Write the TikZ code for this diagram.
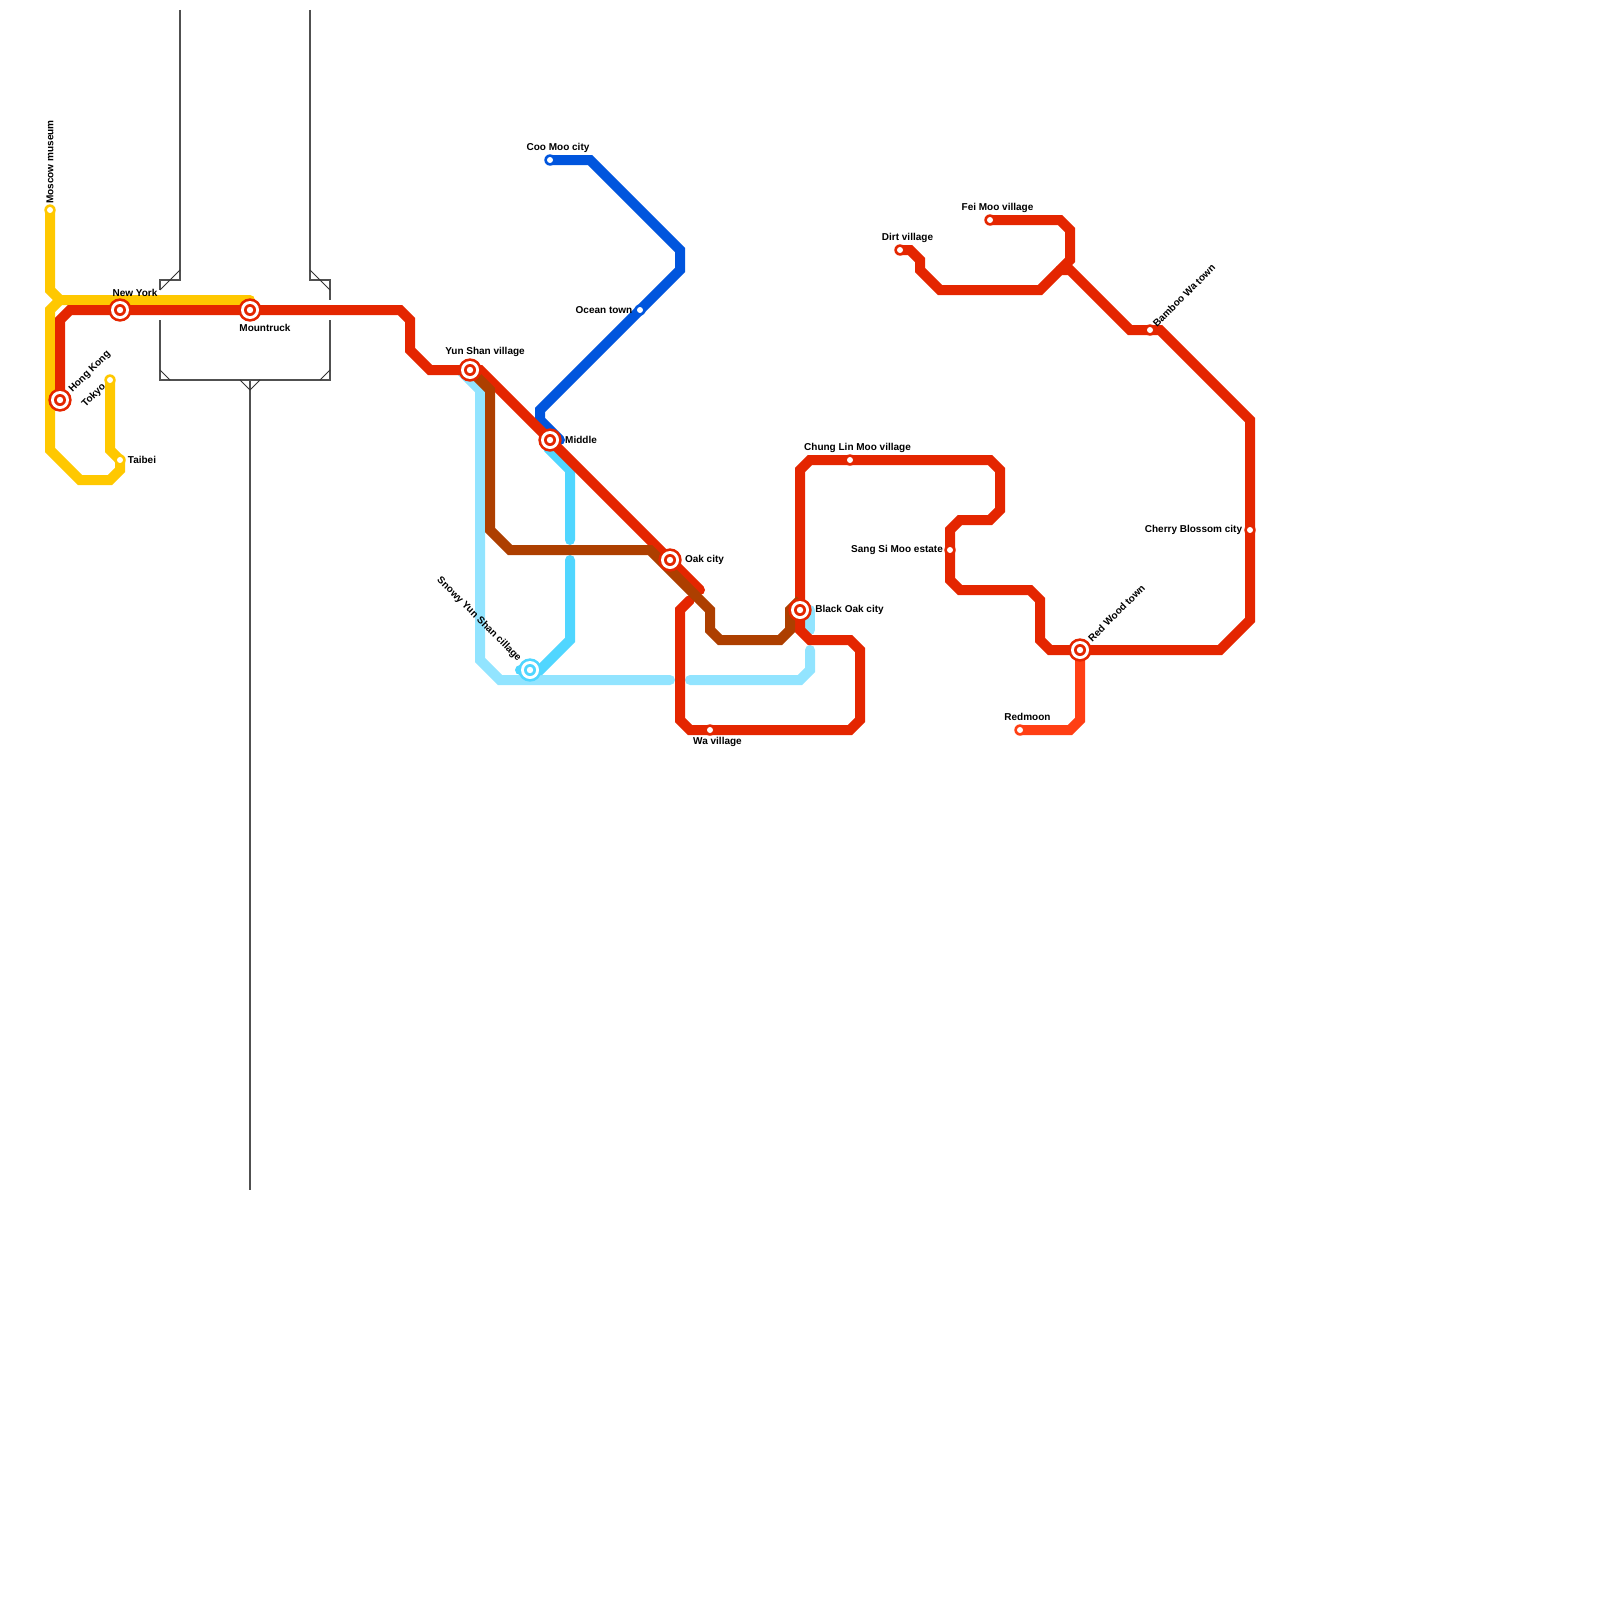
\documentclass[tikz,border=0pt]{standalone}
\usepackage{fontspec}
\setmainfont{Liberation Sans}
\definecolor{lred}{HTML}{E42600}
\definecolor{lorange}{HTML}{FF3F14}
\definecolor{lyellow}{HTML}{FFC800}
\definecolor{lblue}{HTML}{0055DD}
\definecolor{lcyan}{HTML}{50D6FF}
\definecolor{lpale}{HTML}{92E4FF}
\definecolor{lbrown}{HTML}{AD3F00}
\definecolor{lgrey}{HTML}{505050}
\newcommand{\hubmark}[2]{%
  \fill[#2] (#1) circle (11.7pt);
  \fill[white] (#1) circle (9pt);
  \fill[#2] (#1) circle (6pt);
  \fill[white] (#1) circle (3.2pt);}
\newcommand{\stopmark}[2]{%
  \fill[#2] (#1) circle (5.7pt);
  \fill[white] (#1) circle (3pt);}
\tikzset{
  metro/.style={line width=10pt,line cap=round,line join=miter,miter limit=10},
  frame/.style={draw=lgrey,line width=1.5pt},
  tick/.style={draw=black!80,line width=1pt},
  lbl/.style={inner sep=0pt,text=black,font=\bfseries\fontsize{10}{12}\selectfont}
}
\begin{document}
\begin{tikzpicture}[x=1pt,y=-1pt]
\useasboundingbox (0,0) rectangle (1600,1600);
% stations
\coordinate (moscow) at (50,210);
\coordinate (newyork) at (120,310);
\coordinate (mountruck) at (250,310);
\coordinate (hongkong) at (60,400);
\coordinate (tokyo) at (110,380);
\coordinate (taibei) at (120,460);
\coordinate (yunshan) at (470,370);
\coordinate (middle) at (550,440);
\coordinate (oak) at (670,560);
\coordinate (blackoak) at (800,610);
\coordinate (wa) at (710,730);
\coordinate (snowy) at (530,670);
\coordinate (coomoo) at (550,160);
\coordinate (ocean) at (640,310);
\coordinate (chunglin) at (850,460);
\coordinate (dirt) at (900,250);
\coordinate (feimoo) at (990,220);
\coordinate (bamboo) at (1150,330);
\coordinate (sangsi) at (950,550);
\coordinate (cherry) at (1250,530);
\coordinate (redwood) at (1080,650);
\coordinate (redmoon) at (1020,730);
% grey frame
\coordinate (fa) at (180,10);
\coordinate (fb) at (180,280);
\coordinate (fc) at (160,280);
\coordinate (fd) at (160,290);
\coordinate (fe) at (180,270);
\coordinate (ga) at (310,10);
\coordinate (gb) at (310,280);
\coordinate (gc) at (330,280);
\coordinate (gd) at (330,300);
\coordinate (ge) at (310,270);
\coordinate (gf) at (330,290);
\coordinate (ha) at (160,320);
\coordinate (hb) at (160,380);
\coordinate (hc) at (330,380);
\coordinate (hd) at (330,320);
\coordinate (ja) at (250,380);
\coordinate (jb) at (250,1190);
\coordinate (jc) at (250,390);
\draw[frame] (fa) -- (fb) -- (fc) -- (fd);
\draw[frame] (ga) -- (gb) -- (gc) -- (gd);
\draw[frame] (ha) -- (hb) -- (hc) -- (hd);
\draw[frame] (ja) -- (jb);
\draw[tick] (fe) -- (fd);
\draw[tick] (ge) -- (gf);
\draw[tick] (160,370) -- (170,380);
\draw[tick] (330,370) -- (320,380);
\draw[tick] (240,380) -- (jc) -- (260,380);
% yellow
\draw[metro,lyellow] (moscow) -- (50,290) -- (60,300) -- (mountruck |- 0,300);
\draw[metro,lyellow] (60,300) -- (50,310) -- (50,450) -- (80,480) -- (110,480) -- (120,470) -- (taibei) -- (110,450) -- (tokyo);
% pale blue
\draw[metro,lpale] (460,370) -- (480,390) -- (480,660) -- (500,680) -- (670,680);
\draw[metro,lpale] (690,680) -- (800,680) -- (810,670) -- (810,650);
\draw[metro,lpale] (810,610) -- (810,630);
% cyan
\draw[metro,lcyan] (548,448) -- (570,470) -- (570,540);
\draw[metro,lcyan] (570,560) -- (570,640) -- (540,670) -- (snowy) -- (520,670);
% blue
\draw[metro,lblue] (coomoo) -- (590,160) -- (680,250) -- (680,270) -- (ocean) -- (540,410) -- (540,420) -- (560,440);
% orange-red
\draw[metro,lorange] (redwood) -- (1080,720) -- (1070,730) -- (redmoon);
% red
\draw[metro,lred] (hongkong) -- (60,320) -- (70,310) -- (newyork) -- (mountruck) -- (400,310) -- (410,320) -- (410,350) -- (430,370) -- (yunshan) -- (480,370) -- (middle) -- (oak) -- (700,590);
\draw[metro,lred] (690,600) -- (680,610) -- (680,720) -- (690,730) -- (wa) -- (850,730) -- (860,720) -- (860,650) -- (850,640) -- (810,640) -- (800,630) -- (blackoak) -- (800,470) -- (810,460) -- (chunglin) -- (990,460) -- (1000,470) -- (1000,510) -- (990,520) -- (960,520) -- (950,530) -- (sangsi) -- (950,580) -- (960,590) -- (1030,590) -- (1040,600) -- (1040,640) -- (1050,650) -- (redwood) -- (1220,650) -- (1250,620) -- (cherry) -- (1250,420) -- (1160,330) -- (bamboo) -- (1130,330) -- (1070,270) -- (1060,270);
\draw[metro,lred] (dirt) -- (910,250) -- (920,260) -- (920,270) -- (940,290) -- (1040,290) -- (1070,260) -- (1070,230) -- (1060,220) -- (feimoo);
% brown
\draw[metro,lbrown,line cap=butt] (470,370) -- (490,390) -- (490,530) -- (510,550) -- (650,550) -- (710,610) -- (710,630) -- (720,640) -- (780,640) -- (790,630) -- (790,610) -- (800,600);
% station marks
\stopmark{moscow}{lyellow}
\stopmark{tokyo}{lyellow}
\stopmark{taibei}{lyellow}
\stopmark{coomoo}{lblue}
\stopmark{ocean}{lblue}
\stopmark{wa}{lred}
\stopmark{chunglin}{lred}
\stopmark{dirt}{lred}
\stopmark{feimoo}{lred}
\stopmark{bamboo}{lred}
\stopmark{sangsi}{lred}
\stopmark{cherry}{lred}
\stopmark{redmoon}{lorange}
\hubmark{newyork}{lred}
\hubmark{mountruck}{lred}
\hubmark{hongkong}{lred}
\hubmark{yunshan}{lred}
\hubmark{middle}{lred}
\hubmark{oak}{lred}
\hubmark{blackoak}{lred}
\hubmark{redwood}{lred}
\hubmark{snowy}{lcyan}
% labels
\node[lbl,rotate=90] (tmoscow) at (50,162) {Moscow museum};
\node[lbl] (tnewyork) at (135,292.5) {New York};
\node[lbl] (tmountruck) at (265,327.5) {Mountruck};
\node[lbl,rotate=45] (thongkong) at (90,372) {Hong Kong};
\node[lbl,rotate=45] (ttokyo) at (94,395.5) {Tokyo};
\node[lbl] (ttaibei) at (142,460) {Taibei};
\node[lbl] (tyunshan) at (485,352) {Yun Shan village};
\node[lbl] (tmiddle) at (581,439.5) {Middle};
\node[lbl] (toak) at (704.5,560) {Oak city};
\node[lbl] (tblackoak) at (849.5,610) {Black Oak city};
\node[lbl] (twa) at (717.5,741.5) {Wa village};
\node[lbl,rotate=-45] (tsnowy) at (479,619.5) {Snowy Yun Shan cillage};
\node[lbl] (tcoomoo) at (558,147.5) {Coo Moo city};
\node[lbl] (tocean) at (604,310) {Ocean town};
\node[lbl] (tchunglin) at (857.5,447.5) {Chung Lin Moo village};
\node[lbl] (tdirt) at (907.5,237.5) {Dirt village};
\node[lbl] (tfeimoo) at (997.5,207.5) {Fei Moo village};
\node[lbl,rotate=45] (tbamboo) at (1184,295.5) {Bamboo Wa town};
\node[lbl] (tsangsi) at (897,550) {Sang Si Moo estate};
\node[lbl] (tcherry) at (1193.5,530) {Cherry Blossom city};
\node[lbl,rotate=45] (tredwood) at (1116.5,613) {Red Wood town};
\node[lbl] (tredmoon) at (1027.5,717) {Redmoon};
\end{tikzpicture}
\end{document}
